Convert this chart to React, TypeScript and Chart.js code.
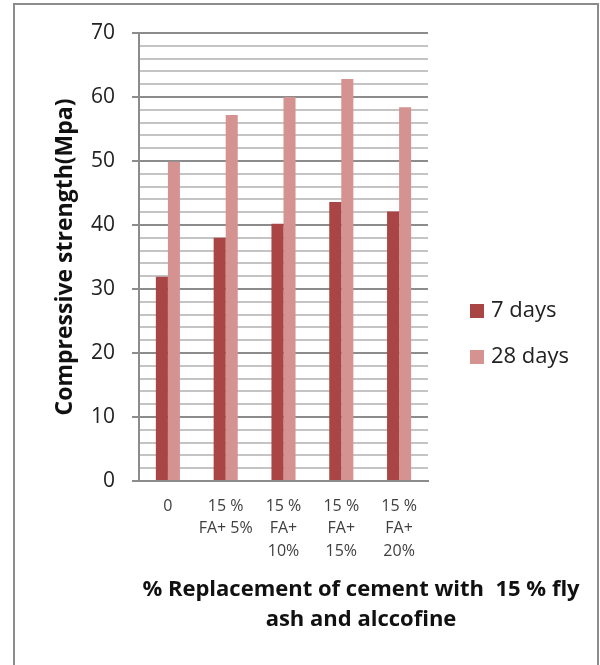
import { useEffect, useRef } from 'react';
import { Chart, registerables } from 'chart.js';

Chart.register(...registerables);

const categories: string[][] = [
  ['0'],
  ['15 %', 'FA+ 5%'],
  ['15 %', 'FA+', '10%'],
  ['15 %', 'FA+', '15%'],
  ['15 %', 'FA+', '20%'],
];
const days7 = [31.9, 38.0, 40.2, 43.6, 42.1];
const days28 = [49.9, 57.2, 60.0, 62.8, 58.4];
const seriesLabels = ['7 days', '28 days'];
const seriesColors = ['#A94544', '#D49291'];
const yTitle = 'Compressive strength(Mpa)';
const xTitleLines = ['% Replacement of cement with  15 % fly', 'ash and alccofine'];

const FONT = '"Open Sans", Lato, sans-serif';

const customText = {
  id: 'customText',
  afterDraw(chart: any) {
    const { ctx, chartArea } = chart;
    ctx.save();
    const lx = chartArea.right + 42;
    chart.data.datasets.forEach((ds: any, i: number) => {
      const cy = 311 + i * 46;
      ctx.fillStyle = ds.backgroundColor;
      ctx.fillRect(lx, cy - 7, 14, 14);
      ctx.fillStyle = '#222';
      ctx.font = `22px ${FONT}`;
      ctx.textBaseline = 'middle';
      ctx.textAlign = 'left';
      ctx.fillText(ds.label, lx + 21, cy);
    });
    ctx.font = `bold 22px ${FONT}`;
    ctx.fillStyle = '#111';
    ctx.textAlign = 'center';
    ctx.textBaseline = 'middle';
    xTitleLines.forEach((t, i) => ctx.fillText(t, 361, 590 + i * 30));
    ctx.restore();
  },
};

export default function App() {
  const ref = useRef<HTMLCanvasElement | null>(null);
  useEffect(() => {
    if (!ref.current) return;
    const chart = new Chart(ref.current, {
      type: 'bar',
      data: {
        labels: categories,
        datasets: [
          { label: seriesLabels[0], data: days7, backgroundColor: seriesColors[0] },
          { label: seriesLabels[1], data: days28, backgroundColor: seriesColors[1] },
        ],
      },
      options: {
        responsive: false,
        animation: false,
        devicePixelRatio: 1,
        layout: { padding: { left: 39, top: 33, right: 172, bottom: 0 } },
        datasets: { bar: { categoryPercentage: 0.4167, barPercentage: 1 } },
        plugins: { legend: { display: false }, tooltip: { enabled: false } },
        scales: {
          x: {
            grid: { display: false, drawTicks: false },
            border: { color: '#8c8c8c', width: 2 },
            ticks: {
              font: { family: FONT, size: 16, lineHeight: 1.4 },
              color: '#404040',
              padding: 14,
              maxRotation: 0,
              autoSkip: false,
            },
            afterFit: (s: any) => { s.height = 184; },
          },
          y: {
            min: 0,
            max: 70,
            ticks: {
              stepSize: 2,
              autoSkip: false,
              callback: (v: any) => (Number(v) % 10 === 0 ? String(v) : ''),
              font: { family: FONT, size: 21 },
              color: '#222',
              padding: 17,
            },
            grid: {
              color: (c: any) => (c.tick && c.tick.value % 10 === 0 ? '#8c8c8c' : '#c4c4c4'),
              lineWidth: 2,
              tickLength: 7,
              tickColor: (c: any) => (c.tick && c.tick.value % 10 === 0 ? '#8c8c8c' : 'rgba(0,0,0,0)'),
            },
            border: { color: '#8c8c8c', width: 2 },
            title: {
              display: true,
              text: yTitle,
              font: { family: FONT, size: 23, weight: 'bold' },
              color: '#111',
              padding: { top: 13, bottom: 0 },
            },
            afterFit: (s: any) => { s.width = 100; },
          },
        },
      },
      plugins: [customText],
    });
    return () => chart.destroy();
  }, []);

  return (
    <div style={{ position: 'fixed', left: 0, top: 0, width: 600, height: 665, overflow: 'hidden', background: '#fff' }}>
      <div style={{ position: 'absolute', left: 13, top: 3, width: 582, height: 720, border: '2px solid #8c8c8c' }} />
      <canvas ref={ref} width={600} height={665} style={{ position: 'absolute', left: 0, top: 0, display: 'block' }} />
    </div>
  );
}
